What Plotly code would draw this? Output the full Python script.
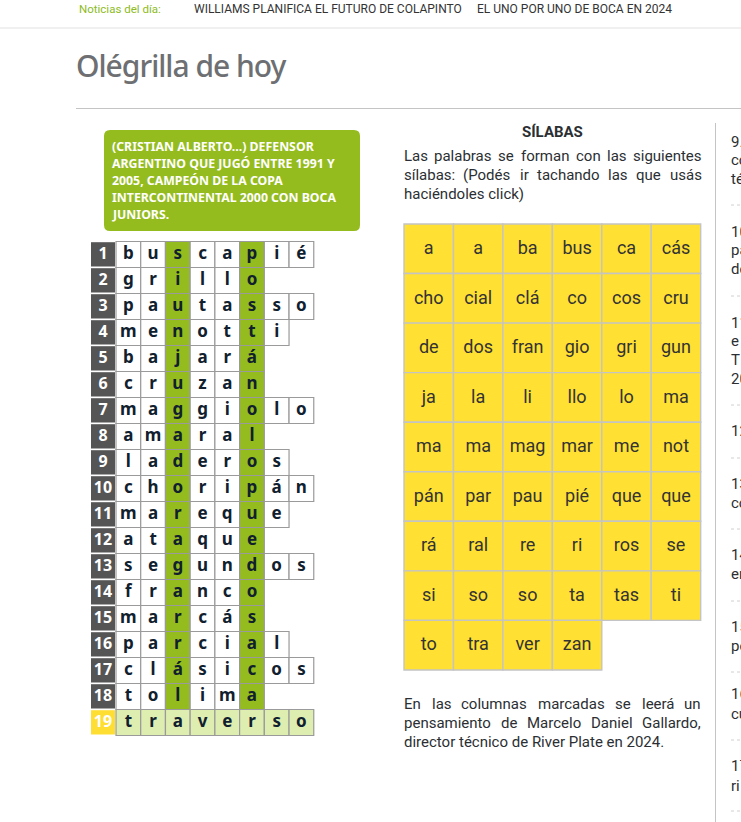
import plotly.graph_objs as go

words = ['buscapié', 'grillo', 'pautasso', 'menotti', 'bajará', 'cruzan', 'maggiolo', 'amaral', 'laderos',
         'choripán', 'mareque', 'ataque', 'segundos', 'franco', 'marcás', 'parcial', 'clásicos', 'tolima', 'traverso']
marked_cols = [2, 5]
silabas = ['a', 'a', 'ba', 'bus', 'ca', 'cás',
           'cho', 'cial', 'clá', 'co', 'cos', 'cru',
           'de', 'dos', 'fran', 'gio', 'gri', 'gun',
           'ja', 'la', 'li', 'llo', 'lo', 'ma',
           'ma', 'ma', 'mag', 'mar', 'me', 'not',
           'pán', 'par', 'pau', 'pié', 'que', 'que',
           'rá', 'ral', 're', 'ri', 'ros', 'se',
           'si', 'so', 'so', 'ta', 'tas', 'ti',
           'to', 'tra', 'ver', 'zan']
clue = ['(CRISTIAN ALBERTO...) DEFENSOR', 'ARGENTINO QUE JUGÓ ENTRE 1991 Y', '2005, CAMPEÓN DE LA COPA',
        'INTERCONTINENTAL 2000 CON BOCA', 'JUNIORS.']
# what is visible of the next column before the window cuts it
side_text = [('9.', 142), ('co', 160), ('té', 179), ('10', 232), ('pa', 250), ('de', 269), ('11', 323), ('e', 341),
             ('T', 360), ('20', 379), ('12', 431), ('13', 484), ('co', 503), ('14', 555), ('en', 574), ('15', 627),
             ('pe', 646), ('16', 694), ('cu', 714), ('17', 766), ('ri', 786)]
side_dash = [205, 296, 405, 458, 529, 601, 672, 740, 811]

GRAY = '#c4c4c4'
TXT = '#2b2f33'

fig = go.Figure()
shapes = []
notes = []


def rect(x0, y0, x1, y1, fill, line=None, lw=1):
    shapes.append(dict(type='rect', x0=x0, y0=y0, x1=x1, y1=y1, fillcolor=fill, layer='below',
                       line=dict(color=line or fill, width=lw if line else 0)))


def text(x, y, s, size, color=TXT, family='Roboto', anchor='left', weight=None):
    font = dict(family=family, size=size, color=color)
    if weight:
        font['weight'] = weight
    # annotations sit 2px inside their box
    if anchor == 'left':
        x = x - 2
    notes.append(dict(x=x, y=y, text=s, showarrow=False, xanchor=anchor, yanchor='middle', font=font, align=anchor))


# header
text(79, 9, 'Noticias del día:', 11.5, '#8dbb25')
text(194, 9, 'WILLIAMS PLANIFICA EL FUTURO DE COLAPINTO', 12, '#333333')
text(477, 9, 'EL UNO POR UNO DE BOCA EN 2024', 12, '#333333')
rect(0, 27, 741, 29, '#f0f0f0')
text(76, 65, 'Olégrilla de hoy', 30, '#6d6f72', 'Noto Sans', weight=500)
rect(76, 108, 741, 109, GRAY)

# clue box
shapes.append(dict(type='path', layer='below', fillcolor='#95bc1e', line=dict(width=0),
                   path='M 110 130 L 354 130 Q 360 130 360 136 L 360 225 Q 360 231 354 231 L 110 231 '
                        'Q 104 231 104 225 L 104 136 Q 104 130 110 130 Z'))
for i, line in enumerate(clue):
    text(112, 146 + i * 17, line, 12.3, 'white', 'Noto Sans', weight=700)

# crossword
gx, gy, cw, ch = 116, 241.5, 24.72, 26
lx, ly, nx, ny, nt = [], [], [], [], []
for r, w in enumerate(words):
    last = r == len(words) - 1
    y0 = gy + r * ch
    rect(91, y0 + 0.7, 115, y0 + ch - 1, '#ffde33' if last else '#555555')
    nx.append(103)
    ny.append(y0 + ch / 2)
    nt.append(str(r + 1))
    for c, ltr in enumerate(w):
        x0 = gx + c * cw
        fill = '#deedb0' if last else ('#95bc1e' if c in marked_cols else 'white')
        rect(x0, y0, x0 + cw, y0 + ch, fill, '#9a9a9a', 1.2)
        lx.append(x0 + cw / 2)
        ly.append(y0 + ch / 2)
fig.add_trace(go.Scatter(x=nx, y=ny, text=nt, mode='text', hoverinfo='skip', cliponaxis=False,
                         textfont=dict(family='Noto Sans', size=16, color='white', weight=700)))
fig.add_trace(go.Scatter(x=lx, y=ly, text=list(''.join(words)), mode='text', hoverinfo='skip',
                         textfont=dict(family='Noto Sans', size=17, color='#10202e', weight=700)))

# silabas
text(552, 132, 'SÍLABAS', 15, '#2b2f33', 'Roboto', 'center', 700)
for word, x in zip('Las palabras se forman con las siguientes'.split(), [404, 434, 498, 521, 576, 607, 633]):
    text(x, 156, word, 15)
for word, x in zip('sílabas: (Podés ir tachando las que usás'.split(), [404, 463, 520, 537, 608, 636, 670]):
    text(x, 175, word, 15)
text(404, 194, 'haciéndoles click)', 15)
sx, sy, sw, sh = 404, 224, 49.45, 49.55
tx, ty = [], []
for i, s in enumerate(silabas):
    r, c = divmod(i, 6)
    x0 = sx + c * sw
    y0 = sy + r * sh
    rect(x0, y0, x0 + sw, y0 + sh, '#ffe033', GRAY, 1.4)
    tx.append(x0 + sw / 2)
    ty.append(y0 + sh / 2 + 0.7)
fig.add_trace(go.Scatter(x=tx, y=ty, text=silabas, mode='text', hoverinfo='skip',
                         textfont=dict(family='Roboto', size=18, color='#333333')))
for word, x in zip('En las columnas marcadas se leerá un'.split(), [404, 432, 461, 538, 615, 642, 684]):
    text(x, 704, word, 15)
for word, x in zip('pensamiento de Marcelo Daniel Gallardo,'.split(), [404, 501, 527, 591, 642]):
    text(x, 723, word, 15)
text(404, 742, 'director técnico de River Plate en 2024.', 15)

# next column, cut by the window
rect(715, 123, 716, 822, GRAY)
for s, y in side_text:
    text(731, y, s, 15)
for y in side_dash:
    shapes.append(dict(type='line', x0=731, x1=741, y0=y, y1=y, layer='below',
                       line=dict(color='#d0d0d0', width=1, dash='3px,3px')))

fig.update_xaxes(range=[0, 741], visible=False, fixedrange=True)
fig.update_yaxes(range=[822, 0], visible=False, fixedrange=True)
fig.update_layout(width=741, height=822, margin=dict(l=0, r=0, t=0, b=0), showlegend=False,
                  plot_bgcolor='white', paper_bgcolor='white', shapes=shapes, annotations=notes)
# page title runs tighter than the font's default spacing
squeeze = ("document.body.style.margin='0';document.body.style.overflow='hidden';"
           "document.querySelectorAll('.annotation-text').forEach(function(t){"
           "if(t.textContent.indexOf('Olégrilla')===0){t.style.letterSpacing='-1px';}});")
fig.write_html("out.html", config={'displayModeBar': False}, post_script=squeeze)
